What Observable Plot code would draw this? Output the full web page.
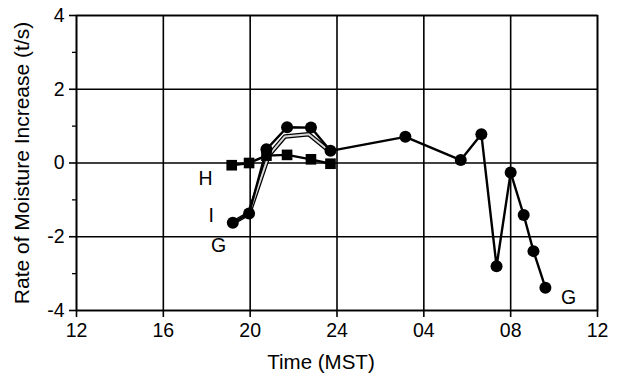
<!DOCTYPE html>
<html>
<head>
<meta charset="utf-8">
<script src="https://cdn.jsdelivr.net/npm/d3@7"></script>
<script src="https://cdn.jsdelivr.net/npm/@observablehq/plot@0.6"></script>
<style>
  body { margin: 0; background: white; }
</style>
</head>
<body>
<div id="chart"></div>
<script>
// Series G (circles)
const gTime = [19.2, 19.95, 20.75, 21.7, 22.8, 23.7, 27.15, 29.7, 30.65, 31.35, 32.0, 32.6, 33.05, 33.6];
const gRate = [-1.62, -1.37, 0.37, 0.97, 0.96, 0.33, 0.71, 0.08, 0.78, -2.8, -0.26, -1.41, -2.39, -3.38];
// Series H (squares)
const hTime = [19.15, 19.95, 20.75, 21.7, 22.8, 23.7];
const hRate = [-0.06, 0.0, 0.2, 0.22, 0.1, -0.02];
// Series I (hollow line)
const iTime = [19.2, 19.95, 20.85, 21.6, 22.7, 23.7];
const iRate = [-1.62, -1.37, 0.2, 0.72, 0.78, 0.3];
// Labels
const labelText = ["H", "I", "G", "G"];
const labelTime = [17.95, 18.2, 18.55, 34.67];
const labelRate = [-0.43, -1.44, -2.25, -3.66];
// Ticks
const xTicks = [12, 16, 20, 24, 28, 32, 36];
const xTickLabels = ["12", "16", "20", "24", "04", "08", "12"];
const yTicks = [-4, -2, 0, 2, 4];
const yMinor = [-3, -1, 1, 3];

const G = gTime.map((t, i) => ({t, r: gRate[i]}));
const H = hTime.map((t, i) => ({t, r: hRate[i]}));
const I = iTime.map((t, i) => ({t, r: iRate[i]}));
const L = labelText.map((s, i) => ({s, t: labelTime[i], r: labelRate[i]}));
const fmt = v => xTickLabels[xTicks.indexOf(v)];

const chart = Plot.plot({
  width: 618, height: 378,
  marginLeft: 76, marginRight: 21, marginTop: 15, marginBottom: 68,
  style: {fontFamily: "'Liberation Sans', Arial, sans-serif", fontSize: "19px", color: "black", background: "white"},
  x: {domain: [12, 36]},
  y: {domain: [-4, 4]},
  marks: [
    Plot.gridX(xTicks, {stroke: "black", strokeOpacity: 1, strokeWidth: 1.6}),
    Plot.gridY(yTicks, {stroke: "black", strokeOpacity: 1, strokeWidth: 1.6}),
    Plot.frame({stroke: "black", strokeWidth: 1.6}),
    Plot.axisX(xTicks, {tickSize: 7, tickPadding: 6, tickFormat: fmt, fontSize: 19.5, label: null, strokeWidth: 1.6}),
    Plot.axisY(yTicks, {tickSize: 7, tickPadding: 5, tickFormat: d => String(d), fontSize: 19.5, label: null, strokeWidth: 1.6}),
    Plot.axisY(yMinor, {tickSize: 4, tickFormat: () => "", label: null, strokeWidth: 1.3}),
    Plot.text(["Rate of Moisture Increase (t/s)"], {frameAnchor: "left", textAnchor: "middle", lineAnchor: "middle", dx: -54, rotate: -90, fontSize: 21}),
    Plot.text(["Time (MST)"], {frameAnchor: "bottom", lineAnchor: "middle", dx: -16, dy: 52, fontSize: 20.5}),
    // I hollow line
    Plot.line(I, {x: "t", y: "r", stroke: "black", strokeWidth: 4.5}),
    Plot.line(I, {x: "t", y: "r", stroke: "#d8d8d8", strokeWidth: 2}),
    // H
    Plot.line(H, {x: "t", y: "r", stroke: "black", strokeWidth: 2.4}),
    Plot.dot(H, {x: "t", y: "r", symbol: "square", r: 6, fill: "black"}),
    // G
    Plot.line(G, {x: "t", y: "r", stroke: "black", strokeWidth: 2.4}),
    Plot.dot(G, {x: "t", y: "r", r: 6, fill: "black"}),
    Plot.text(L, {x: "t", y: "r", text: "s", fontSize: 19.5})
  ]
});
document.getElementById("chart").append(chart);
</script>
</body>
</html>
